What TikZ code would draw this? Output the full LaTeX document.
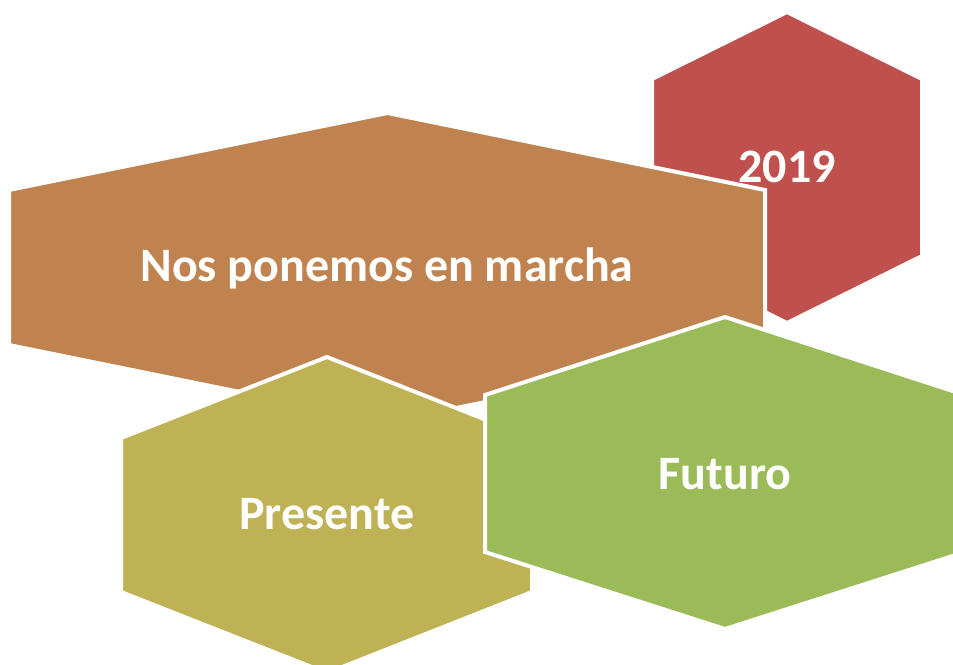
\documentclass[tikz,border=0pt]{standalone}
\usepackage{fontspec}
\setmainfont{Carlito}
\definecolor{hexred}{HTML}{C0504D}
\definecolor{hexbrown}{HTML}{C0834F}
\definecolor{hexolive}{HTML}{BEB255}
\definecolor{hexgreen}{HTML}{9BBB59}
\tikzset{
  hexfill/.style={fill=#1, draw=white, line width=4pt, line join=miter},
  hexlabel/.style={text=white, font=\fontsize{48}{52}\selectfont\bfseries, inner sep=0pt}
}
\begin{document}
\begin{tikzpicture}[x=1pt,y=-1pt]
\useasboundingbox (0,0) rectangle (953,664);
\fill[white] (0,0) rectangle (953,664);
\clip (0,0) rectangle (953,664);
% red hexagon
\path[hexfill=hexred] (787,12) -- (922,79) -- (922,256) -- (787,323) -- (652,256) -- (652,79) -- cycle;
\node[hexlabel] (y2019) at (787,167) {2019};
% brown hexagon
\path[hexfill=hexbrown] (387.5,113) -- (765,190) -- (765,345) -- (387.5,422) -- (9,345) -- (9,190) -- cycle;
\node[hexlabel] (marcha) at (387,268) {Nos ponemos en marcha};
% olive hexagon
\path[hexfill=hexolive] (327,357) -- (532,438) -- (532,592) -- (327,673) -- (121,592) -- (121,438) -- cycle;
\node[hexlabel] (presente) at (327,514) {Presente};
% green hexagon
\path[hexfill=hexgreen] (725,317) -- (965,395) -- (965,552) -- (725,629) -- (485,552) -- (485,395) -- cycle;
\node[hexlabel] (futuro) at (725,474) {Futuro};
\end{tikzpicture}
\end{document}
